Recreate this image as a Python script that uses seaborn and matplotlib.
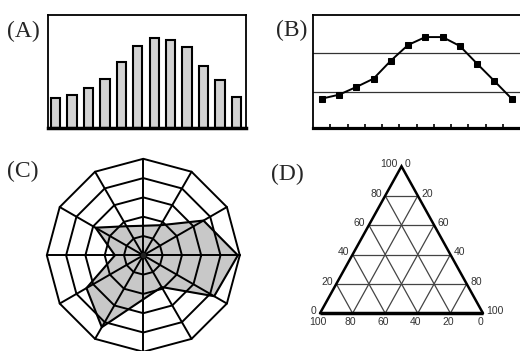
import numpy as np
import matplotlib.pyplot as plt
import seaborn as sns

sns.set_style('white')
plt.rcParams['font.family'] = ['Liberation Sans', 'DejaVu Sans']

# --- data ---
bar_values = [26.5, 29, 35, 43, 58, 72, 79, 78, 71, 55, 42, 27]
line_values = [25.7, 29.2, 36.0, 43.4, 59.3, 73.2, 80.2, 80.2, 72.3, 56.6, 41.3, 25.7]
line_refs = [31.9, 65.8]
radar_values = [4.9, 3.6, 1.8, 1.53, 1.74, 2.86, 1.47, 3.4, 4.3, 2.28, 1.9, 4.24]
radar_rings = [1, 2, 3, 4, 5]
ternary_levels = [0, 20, 40, 60, 80, 100]
left_labels = ['0', '20', '40', '60', '80', '100']     # bottom -> top
right_labels = ['0', '20', '60', '40', '80', '100']    # top -> bottom
bottom_labels = ['100', '80', '60', '40', '20', '0']   # left -> right
panel_labels = ['(A)', '(B)', '(C)', '(D)']

W, H = 520, 351
fig = plt.figure(figsize=(W / 100, H / 100), dpi=100)


def box(x0, y0, x1, y1):
    # pixel box (top-left origin) -> figure fraction rect
    return [x0 / W, 1 - y1 / H, (x1 - x0) / W, (y1 - y0) / H]


# --- (A) bars ---
axA = fig.add_axes(box(48.3, 14.7, 246, 127.7))
sns.barplot(x=list(range(len(bar_values))), y=bar_values, color='#d2d2d2',
            saturation=1, edgecolor='black', linewidth=1.5, width=0.57, ax=axA)
axA.set_xlim(-0.43, 11.57)
axA.set_ylim(0, 100)
axA.set(xticks=[], yticks=[], xlabel='', ylabel='')
for s in axA.spines.values():
    s.set_color('black')
    s.set_linewidth(1.3)
axA.spines['bottom'].set_linewidth(2.5)

# --- (B) line ---
axB = fig.add_axes(box(313.3, 14.7, 522, 127.7))
for v in line_refs:
    axB.axhline(v, color='#333333', lw=0.9, zorder=1)
sns.lineplot(x=list(range(len(line_values))), y=line_values, color='black',
             linewidth=1.4, marker='s', markersize=3.8, markeredgecolor='black',
             ax=axB, zorder=3)
axB.set_xlim(-0.49, 11.6)
axB.set_ylim(0, 100)
axB.set_xticks(np.arange(0.5, 11, 1))
axB.set_xticklabels([])
axB.set_yticks([])
axB.set(xlabel='', ylabel='')
axB.tick_params(axis='x', bottom=True, direction='in', length=3, width=1.2, color='black')
for s in axB.spines.values():
    s.set_color('black')
    s.set_linewidth(1.3)
axB.spines['right'].set_visible(False)
axB.spines['bottom'].set_linewidth(2.3)

# --- (C) radar ---
cx, cy, R = 143.3, 255.3, 96.5
axC = fig.add_axes(box(cx - R, cy - R, cx + R, cy + R), projection='polar')
n = len(radar_values)
theta = np.linspace(0, 2 * np.pi, n, endpoint=False)
closed = np.append(theta, theta[0])
vals = np.append(radar_values, radar_values[0])
axC.fill(closed, vals, color='#c8c8c8', zorder=1)
axC.plot(closed, vals, color='black', lw=1.5, zorder=3)
for r in radar_rings:
    axC.plot(closed, [r] * (n + 1), color='black', lw=1.4, zorder=2, clip_on=False)
for t in theta:
    axC.plot([t, t], [0, radar_rings[-1]], color='black', lw=1.4, zorder=2, clip_on=False)
axC.plot([0], [0], 'o', color='#222222', ms=3, zorder=4)
axC.set_ylim(0, radar_rings[-1])
axC.grid(False)
axC.set_xticks([])
axC.set_yticks([])
axC.spines['polar'].set_visible(False)
axC.patch.set_alpha(0)

# --- (D) ternary ---
axD = fig.add_axes(box(300, 155, 510, 340))
axD.set_xlim(-20 / 163, 190 / 163)
axD.set_ylim((313.3 - 340) / 169.7, (313.3 - 155) / 169.7)
axD.axis('off')
h = np.sqrt(3) / 2


def tern(top, br):
    return br + top / 2, top * h


for k in ternary_levels[1:-1]:
    f = k / 100
    # constant top
    p = [tern(f, 0), tern(f, 1 - f)]
    axD.plot([p[0][0], p[1][0]], [p[0][1], p[1][1]], color='#444444', lw=0.9)
    # constant bottom-left
    p = [tern(0, 1 - f), tern(1 - f, 0)]
    axD.plot([p[0][0], p[1][0]], [p[0][1], p[1][1]], color='#444444', lw=0.9)
    # constant bottom-right
    p = [tern(0, f), tern(1 - f, f)]
    axD.plot([p[0][0], p[1][0]], [p[0][1], p[1][1]], color='#444444', lw=0.9)

corners = [tern(0, 0), tern(1, 0), tern(0, 1)]
axD.plot([corners[0][0], corners[1][0], corners[2][0]],
         [corners[0][1], corners[1][1], corners[2][1]], color='black', lw=1.8,
         solid_joinstyle='miter')
axD.plot([corners[0][0], corners[2][0]], [corners[0][1], corners[2][1]],
         color='black', lw=2.5, solid_capstyle='butt')

lab_kw = dict(textcoords='offset points', fontsize=7.5, color='#333333')
for i, k in enumerate(ternary_levels):
    f = k / 100
    axD.annotate(left_labels[i], tern(f, 0), xytext=(-2.5, 1.5), ha='right', va='center', **lab_kw)
    axD.annotate(right_labels[i], tern(1 - f, f), xytext=(2.5, 1.5), ha='left', va='center', **lab_kw)
    axD.annotate(bottom_labels[i], tern(0, f), xytext=(-1.5, -3), ha='center', va='top', **lab_kw)

# --- panel letters ---
letter_pos = [(7, 31), (276, 30), (7, 171), (271, 174)]
for lab, (x, y) in zip(panel_labels, letter_pos):
    fig.text(x / W, 1 - y / H, lab, ha='left', va='center', fontsize=17,
             family=['Liberation Serif', 'DejaVu Serif'])

fig.savefig('out.png', dpi=100)
